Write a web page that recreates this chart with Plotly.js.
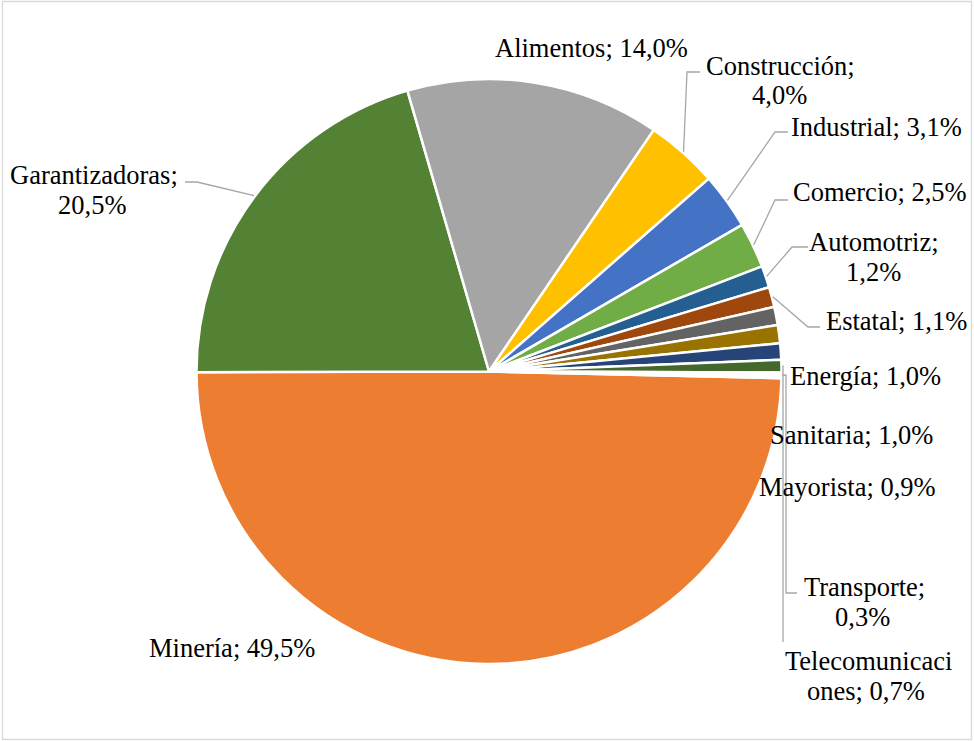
<!DOCTYPE html>
<html>
<head>
<meta charset="utf-8">
<script src="https://cdn.plot.ly/plotly-3.0.1.min.js"></script>
<style>html,body{margin:0;padding:0;background:#fff}#chart{width:974px;height:741px}</style>
</head>
<body>
<div id="chart"></div>
<script>
// ---- data ----
const categories = ["Minería", "Garantizadoras", "Alimentos", "Construcción", "Industrial", "Comercio",
  "Automotriz", "Estatal", "Energía", "Sanitaria", "Mayorista", "Telecomunicaciones", "Transporte"];
const shares = [49.5, 20.5, 14.0, 4.0, 3.1, 2.5, 1.2, 1.1, 1.0, 1.0, 0.9, 0.7, 0.3];
const colors = ["#ED7D31", "#548235", "#A5A5A5", "#FFC000", "#4472C4", "#70AD47",
  "#255E91", "#9E480E", "#636363", "#997300", "#264478", "#43682B", "#FFFFFF"];

// ---- layout helpers (pixel geometry) ----
const W = 974, H = 741;
const CX = 489, CY = 371.5, R = 292.5, ROT = 91.3;
const px = x => x / W, py = y => 1 - y / H;
const FONT = "Liberation Serif";

// label placement: centre of each text line (px), split index for line break, leader elbows
const labelCfg = [
  {x: 232, y: 648},
  {x: [94, 92], y: [175, 205], split: 15, lead: [[185, 182], [197, 182]]},
  {x: 591, y: 48},
  {x: [780, 779], y: [66, 95], split: 13, lead: [[700, 72], [687, 72]]},
  {x: 876, y: 127, lead: [[788, 132], [775, 132]]},
  {x: 880, y: 192, lead: [[788, 200], [775, 200]]},
  {x: [874, 873], y: [242, 272], split: 11, lead: [[808, 247], [792, 247]]},
  {x: 896, y: 321, lead: [[820, 327], [808, 327]]},
  {x: 865, y: 376},
  {x: 851, y: 435},
  {x: 847, y: 487},
  {x: [868, 866], y: [661, 691], split: 14, lead: [[783, 642], [783, 366]]},
  {x: [864, 862], y: [587, 617], split: 11, lead: [[797, 593], [786, 593], [786, 375]]}
];

const total = shares.reduce((a, b) => a + b, 0);
const fmt = v => v.toFixed(1).replace(".", ",") + "%";

const annotations = [];
const shapes = [];
let cum = 0;
shares.forEach((v, i) => {
  const mid = ROT + (cum + v / 2) / total * 360;
  cum += v;
  const cfg = labelCfg[i];
  const text = categories[i] + "; " + fmt(v);
  let lines = [text];
  if (cfg.split) lines = [text.slice(0, cfg.split).trim(), text.slice(cfg.split).trim()];
  lines.forEach((ln, k) => {
    const x = Array.isArray(cfg.x) ? cfg.x[k] : cfg.x;
    const y = Array.isArray(cfg.y) ? cfg.y[k] : cfg.y;
    annotations.push({
      xref: "paper", yref: "paper", x: px(x), y: py(y), xanchor: "center", yanchor: "middle",
      text: ln, showarrow: false,
      font: {family: FONT, size: 26.5, color: "#000000"}
    });
  });
  if (cfg.lead) {
    const a = mid * Math.PI / 180;
    const sx = CX + (R + 1) * Math.sin(a), sy = CY - (R + 1) * Math.cos(a);
    const pts = cfg.lead.concat([[sx, sy]]);
    let d = "M " + px(pts[0][0]) + "," + py(pts[0][1]);
    for (let j = 1; j < pts.length; j++) d += " L " + px(pts[j][0]) + "," + py(pts[j][1]);
    shapes.push({type: "path", xref: "paper", yref: "paper", path: d,
      line: {color: "#A6A6A6", width: 1.3}});
  }
});

// outer chart border
shapes.push({type: "rect", xref: "paper", yref: "paper",
  x0: px(2.5), x1: px(971.5), y0: py(739.5), y1: py(1.5),
  line: {color: "#D9D9D9", width: 1.3}});

const trace = {
  type: "pie",
  labels: categories,
  values: shares,
  sort: false,
  direction: "clockwise",
  rotation: ROT,
  textinfo: "none",
  hoverinfo: "none",
  marker: {colors: colors, line: {color: "#FFFFFF", width: 2.5}},
  domain: {x: [px(CX - R), px(CX + R)], y: [py(CY + R), py(CY - R)]},
  showlegend: false
};

Plotly.newPlot("chart", [trace], {
  width: W, height: H,
  margin: {l: 0, r: 0, t: 0, b: 0},
  paper_bgcolor: "#FFFFFF",
  font: {family: FONT, size: 26.5, color: "#000000"},
  showlegend: false,
  annotations: annotations,
  shapes: shapes
}, {displayModeBar: false, staticPlot: true});
</script>
</body>
</html>
